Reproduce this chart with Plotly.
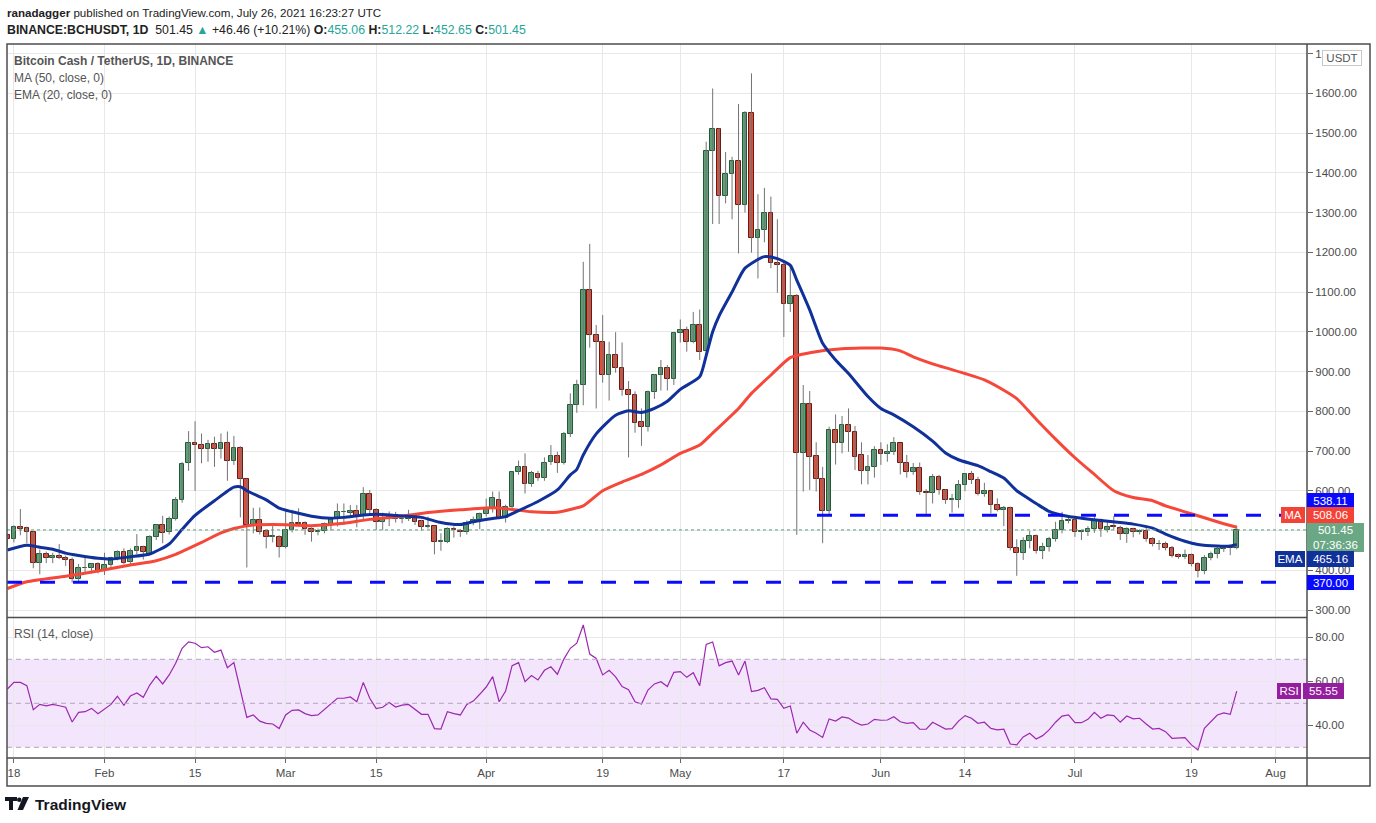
import pandas as pd
import plotly.graph_objects as go

# ============================================================================
# DONNÉES : BCH/USDT, 1D, Binance (17 janv. -> 26 juil. 2021)
# ============================================================================

dates = pd.date_range("2021-01-17", "2021-07-26", freq="D")

opens = [
    489, 478, 509, 506, 495, 417, 440, 430, 437, 430,
    427, 378, 405, 405, 415, 398, 412, 430, 445, 420,
    448, 458, 442, 484, 513, 495, 529, 577, 669, 719,
    714, 704, 717, 704, 719, 676, 707, 629, 515, 526,
    499, 484, 484, 459, 501, 520, 520, 505, 495, 500,
    514, 528, 546, 545, 548, 537, 593, 551, 522, 528,
    540, 528, 530, 536, 524, 510, 511, 472, 472, 505,
    499, 495, 518, 526, 541, 556, 578, 531, 560, 646,
    661, 616, 641, 631, 673, 688, 669, 744, 816, 866,
    1105, 992, 973, 890, 941, 908, 853, 840, 772, 760,
    848, 890, 910, 880, 996, 1004, 973, 1017, 951, 1454,
    1509, 1341, 1398, 1430, 1320, 1550, 1237, 1257, 1298, 1173,
    1167, 1069, 1090, 694, 817, 687, 629, 550, 754, 719,
    765, 749, 689, 650, 661, 702, 692, 697, 719, 670,
    648, 656, 597, 594, 634, 601, 577, 578, 614, 641,
    626, 593, 599, 563, 552, 556, 455, 443, 474, 485,
    448, 459, 479, 501, 524, 526, 495, 495, 505, 526,
    501, 511, 507, 490, 503, 496, 499, 478, 465, 465,
    455, 438, 434, 438, 415, 397, 432, 441, 453, 458,
    455.06,
]
highs = [
    492, 513, 554, 510, 498, 452, 447, 444, 466, 437,
    432, 416, 436, 418, 420, 444, 434, 450, 455, 455,
    491, 462, 488, 516, 537, 535, 584, 672, 750, 775,
    744, 728, 736, 744, 749, 738, 712, 631, 557, 558,
    502, 516, 488, 552, 552, 556, 523, 508, 505, 520,
    530, 568, 568, 564, 564, 609, 602, 556, 545, 548,
    547, 540, 552, 540, 527, 535, 512, 493, 508, 510,
    504, 525, 535, 545, 580, 598, 598, 565, 648, 676,
    694, 650, 650, 684, 715, 698, 748, 845, 879, 1176,
    1221, 1017, 1042, 975, 999, 973, 876, 850, 807, 852,
    894, 929, 916, 1000, 1031, 1013, 1050, 1056, 1478, 1612,
    1512, 1452, 1440, 1573, 1555, 1650, 1346, 1362, 1340, 1283,
    1180, 1164, 1095, 866, 851, 722, 660, 761, 792, 788,
    807, 763, 722, 690, 712, 722, 717, 735, 720, 690,
    670, 671, 604, 642, 640, 604, 592, 627, 644, 650,
    635, 620, 600, 581, 562, 560, 478, 483, 499, 490,
    469, 484, 522, 547, 539, 535, 501, 511, 535, 530,
    526, 536, 512, 508, 507, 503, 508, 483, 476, 472,
    461, 442, 452, 442, 420, 438, 447, 459, 463, 464,
    512.22,
]
lows = [
    459, 470, 488, 468, 405, 390, 418, 418, 428, 411,
    369, 369, 391, 392, 392, 388, 405, 425, 415, 412,
    440, 427, 438, 476, 468, 490, 525, 570, 650, 600,
    669, 673, 660, 681, 625, 665, 533, 407, 493, 490,
    455, 470, 432, 455, 495, 510, 489, 472, 488, 493,
    500, 510, 514, 535, 508, 527, 540, 501, 501, 511,
    520, 518, 524, 514, 500, 505, 440, 449, 468, 482,
    484, 490, 513, 503, 535, 545, 528, 520, 555, 640,
    593, 610, 625, 625, 665, 645, 666, 735, 796, 815,
    960, 807, 872, 827, 897, 839, 684, 746, 713, 749,
    831, 852, 852, 866, 973, 950, 971, 929, 940, 1271,
    1271, 1323, 1283, 1197, 1300, 1199, 1134, 1225, 1160, 1098,
    987, 1050, 489, 598, 602, 598, 468, 537, 666, 694,
    698, 652, 616, 616, 633, 665, 673, 690, 641, 633,
    640, 590, 538, 568, 590, 567, 545, 557, 599, 617,
    588, 585, 543, 548, 511, 450, 386, 426, 455, 442,
    428, 447, 472, 493, 518, 484, 476, 486, 494, 484,
    495, 502, 476, 469, 483, 490, 472, 460, 451, 450,
    432, 429, 428, 410, 382, 390, 425, 430, 446, 438,
    452.65,
]
closes = [
    478, 508, 505, 495, 417, 440, 430, 437, 432, 427,
    378, 405, 406, 415, 398, 412, 430, 445, 417, 448,
    458, 445, 484, 513, 493, 530, 577, 667, 719, 714,
    704, 717, 704, 719, 676, 707, 629, 515, 526, 497,
    483, 485, 459, 501, 518, 516, 505, 495, 500, 516,
    528, 546, 547, 548, 537, 593, 551, 522, 528, 540,
    528, 530, 536, 522, 508, 511, 472, 473, 505, 501,
    495, 518, 526, 541, 556, 581, 531, 560, 646, 661,
    616, 644, 631, 671, 688, 669, 744, 816, 866, 1105,
    992, 973, 890, 941, 908, 853, 841, 770, 760, 848,
    890, 910, 880, 996, 1004, 973, 1017, 950, 1454, 1509,
    1341, 1398, 1430, 1320, 1550, 1237, 1257, 1298, 1172, 1168,
    1069, 1089, 694, 817, 686, 629, 550, 754, 719, 765,
    749, 686, 650, 661, 702, 692, 697, 719, 669, 648,
    656, 596, 594, 634, 601, 576, 579, 614, 641, 627,
    593, 599, 563, 552, 556, 455, 443, 474, 485, 448,
    459, 479, 501, 524, 526, 495, 498, 505, 526, 503,
    510, 508, 490, 503, 495, 499, 479, 465, 466, 455,
    437, 434, 438, 416, 398, 432, 441, 453, 458, 455,
    501.45,
]
rsi = [
    56.5, 59.5, 59.5, 58.0, 47.1, 49.5, 48.8, 49.5, 48.9, 48.2,
    41.5, 45.9, 46.2, 47.7, 45.3, 47.3, 49.5, 53.2, 49.1, 53.3,
    54.7, 52.7, 58.3, 62.3, 58.8, 62.9, 68.2, 75.0, 77.9, 77.3,
    75.3, 75.7, 73.2, 74.2, 66.2, 68.5, 56.0, 43.6, 44.7, 41.9,
    40.9, 40.6, 38.5, 44.7, 46.8, 47.0, 45.3, 44.4, 44.7, 47.3,
    49.7, 52.3, 52.3, 52.9, 50.7, 59.5, 52.3, 47.6, 48.2, 50.4,
    48.3, 49.2, 49.5, 47.3, 45.0, 45.0, 38.5, 38.3, 46.2, 45.3,
    44.7, 49.5, 51.0, 54.1, 57.4, 62.1, 50.7, 55.6, 67.1, 68.5,
    59.8, 62.6, 60.6, 65.0, 66.6, 63.2, 70.1, 75.0, 77.3, 85.6,
    72.4, 70.4, 62.9, 65.0, 62.0, 57.6, 56.2, 50.7, 49.7, 56.0,
    58.8, 59.8, 57.6, 64.1, 64.4, 61.8, 63.9, 58.0, 76.8, 77.9,
    67.0, 68.5, 69.2, 62.9, 69.2, 55.3, 55.9, 57.1, 52.0, 51.8,
    47.7, 48.8, 36.4, 41.4, 37.9, 36.4, 34.5, 42.9, 41.9, 43.8,
    43.3, 41.4, 40.1, 40.6, 42.7, 42.3, 42.4, 43.9, 41.6, 40.9,
    41.2, 38.2, 38.3, 41.4, 39.7, 38.3, 38.5, 41.9, 44.4, 43.2,
    40.9, 41.4, 38.6, 37.9, 38.2, 31.5, 31.1, 34.7, 36.4, 33.8,
    35.3, 37.9, 41.4, 44.2, 44.7, 41.2, 41.2, 42.7, 45.9, 43.2,
    44.7, 44.4, 41.4, 44.2, 42.9, 43.2, 40.6, 38.3, 38.6, 37.1,
    34.1, 34.1, 34.4, 31.1, 28.8, 38.6, 41.7, 44.7, 45.6, 45.0,
    55.55,
]

# Moyennes (jours comptés depuis le 18 janvier)
ema_day = [-1, 2, 4, 6, 8, 10, 13, 15, 18, 21, 24, 26, 28, 31, 34, 35, 36, 39,
           41, 43, 46, 49, 51, 54, 56, 59, 63, 66, 69, 71, 74, 76, 78, 81, 84,
           86, 87, 88, 90, 93, 95, 97, 99, 101, 103, 106, 107, 108, 109, 111,
           113, 116, 118, 120, 121, 123, 125, 127, 129, 132, 134, 136, 139,
           142, 144, 146, 149, 151, 153, 155, 158, 160, 163, 165, 168, 171,
           173, 176, 178, 181, 183, 186, 188, 189]
ema_val = [451, 463, 458, 453, 443, 437, 430, 428, 434, 441, 466, 503, 538, 575,
           609, 610, 600, 577, 556, 547, 536, 531, 533, 539, 541, 538, 533, 520,
           515, 522, 530, 535, 550, 573, 602, 640, 654, 690, 743, 790, 801, 797,
           807, 825, 855, 887, 940, 1000, 1040, 1100, 1160, 1189, 1184, 1167,
           1130, 1055, 971, 929, 895, 837, 807, 791, 761, 725, 695, 678, 663,
           648, 632, 600, 568, 548, 535, 531, 525, 520, 516, 506, 491, 473, 465,
           461, 461, 465.16]

ma_day = [-1, 2, 8, 13, 18, 22, 25, 29, 32, 34, 37, 40, 43, 46, 49, 51, 55, 60,
          64, 69, 74, 77, 80, 84, 86, 88, 91, 94, 97, 100, 103, 106, 108, 112,
          114, 117, 120, 123, 128, 134, 137, 139, 143, 147, 150, 153, 155, 158,
          161, 164, 167, 170, 173, 176, 178, 181, 184, 187, 189]
ma_val = [354, 371, 385, 398, 413, 424, 440, 470, 494, 505, 514, 515, 514, 512,
          515, 518, 528, 536, 545, 552, 557, 553, 547, 546, 553, 562, 600, 622,
          641, 665, 694, 715, 745, 807, 845, 891, 935, 947, 957, 959, 952, 937,
          914, 895, 879, 853, 832, 780, 730, 683, 641, 600, 583, 575, 562, 547,
          532, 517, 508.06]

levels = [370.00, 538.11]
last_price = 501.45
rsi_levels = [30, 50, 70]

tick_dates = ["2021-01-18", "2021-02-01", "2021-02-15", "2021-03-01", "2021-03-15",
              "2021-04-01", "2021-04-19", "2021-05-01", "2021-05-17", "2021-06-01",
              "2021-06-14", "2021-07-01", "2021-07-19", "2021-08-01"]
tick_labels = ["18", "Feb", "15", "Mar", "15", "Apr", "19", "May", "17", "Jun",
               "14", "Jul", "19", "Aug"]
price_ticks = [300, 400, 500, 600, 700, 800, 900, 1000, 1100, 1200, 1300, 1400,
               1500, 1600, 1700]
rsi_ticks = [40, 60, 80]

assert len(opens) == len(highs) == len(lows) == len(closes) == len(rsi) == len(dates)
assert len(ema_day) == len(ema_val) and len(ma_day) == len(ma_val)

# ============================================================================
# REPÈRES DE MISE EN PAGE (pixels de la capture)
# ============================================================================

PX_L, PX_R, PX_T, PX_B = 7, 1307, 44, 758
FONT = "Liberation Sans, Arial, sans-serif"
base = pd.Timestamp("2021-01-18")
jour = pd.Timedelta(days=1)


def fx(px):
    return (px - PX_L) / (PX_R - PX_L)


def fy(py):
    return (PX_B - py) / (PX_B - PX_T)


VERT, ROUGE = "#5e9f78", "#d9503e"
BORD_VERT, BORD_ROUGE = "#1e5b36", "#6b1a12"

fig = go.Figure()

# Mèches
wick_x, wick_y = [], []
for d, h, l in zip(dates, highs, lows):
    wick_x += [d, d, None]
    wick_y += [l, h, None]
fig.add_trace(go.Scatter(x=wick_x, y=wick_y, mode="lines",
                         line=dict(color="#737373", width=1),
                         hoverinfo="skip", showlegend=False))

# Corps des bougies
hausse = [c >= o for o, c in zip(opens, closes)]
fig.add_trace(go.Bar(
    x=dates,
    base=[min(o, c) for o, c in zip(opens, closes)],
    y=[abs(c - o) for o, c in zip(opens, closes)],
    width=0.72 * 86400000,
    marker=dict(color=[VERT if h else ROUGE for h in hausse],
                line=dict(color=[BORD_VERT if h else BORD_ROUGE for h in hausse], width=1)),
    showlegend=False,
))

# MA 50 et EMA 20
fig.add_trace(go.Scatter(x=base + pd.to_timedelta(ma_day, unit="D"), y=ma_val,
                         mode="lines", line=dict(color="#f5483a", width=3, shape="spline", smoothing=0.6),
                         showlegend=False))
fig.add_trace(go.Scatter(x=base + pd.to_timedelta(ema_day, unit="D"), y=ema_val,
                         mode="lines", line=dict(color="#10309a", width=3, shape="spline", smoothing=0.6),
                         showlegend=False))

# RSI
fig.add_trace(go.Scatter(x=dates, y=rsi, yaxis="y2", mode="lines",
                         line=dict(color="#9c27b0", width=1.2), showlegend=False))

# ============================================================================
# FORMES : niveaux, bande RSI, cadres
# ============================================================================

x_debut = base + (PX_L - 13.9) / 6.47 * jour
x_fin = base + (PX_R - 13.9) / 6.47 * jour
x_fin_niveaux = base + (1293 - 13.9) / 6.47 * jour
x_debut_538 = base + (817 - 13.9) / 6.47 * jour

shapes = []
# bande RSI 30-70
shapes.append(dict(type="rect", xref="paper", yref="y2", x0=0, x1=1,
                   y0=rsi_levels[0], y1=rsi_levels[2], fillcolor="#f3e6fc",
                   line=dict(width=0), layer="below"))
for niv in rsi_levels:
    shapes.append(dict(type="line", xref="paper", yref="y2", x0=0, x1=1, y0=niv, y1=niv,
                       line=dict(color="#b4a6bc", width=1, dash="5px,4px")))
# prix courant
shapes.append(dict(type="line", xref="paper", yref="y", x0=0, x1=1,
                   y0=last_price, y1=last_price,
                   line=dict(color="#5e9f78", width=1, dash="dot")))
# supports / résistances
shapes.append(dict(type="line", xref="x", yref="y", x0=x_debut, x1=x_fin_niveaux,
                   y0=levels[0], y1=levels[0],
                   line=dict(color="#0a0aff", width=3, dash="15px,18px")))
shapes.append(dict(type="line", xref="x", yref="y", x0=x_debut_538, x1=x_fin_niveaux,
                   y0=levels[1], y1=levels[1],
                   line=dict(color="#0a0aff", width=3, dash="15px,18px")))
# cadres
cadre = "#4d4d4d"
shapes.append(dict(type="rect", xref="paper", yref="paper", x0=0, x1=fx(1370),
                   y0=fy(786), y1=1, line=dict(color=cadre, width=1.5)))
shapes.append(dict(type="line", xref="paper", yref="paper", x0=1, x1=1,
                   y0=fy(786), y1=1, line=dict(color=cadre, width=1.5)))
shapes.append(dict(type="line", xref="paper", yref="paper", x0=0, x1=fx(1370),
                   y0=0, y1=0, line=dict(color=cadre, width=1.5)))
shapes.append(dict(type="line", xref="paper", yref="paper", x0=0, x1=1,
                   y0=fy(617.5), y1=fy(617.5), line=dict(color=cadre, width=1.5)))
# logo TradingView (approximation)
logo = "#131722"
shapes.append(dict(type="rect", xref="paper", yref="paper", x0=fx(5), x1=fx(17),
                   y0=fy(801), y1=fy(797), fillcolor=logo, line=dict(width=0)))
shapes.append(dict(type="rect", xref="paper", yref="paper", x0=fx(9), x1=fx(13),
                   y0=fy(810), y1=fy(797), fillcolor=logo, line=dict(width=0)))
shapes.append(dict(type="circle", xref="paper", yref="paper", x0=fx(17), x1=fx(21.5),
                   y0=fy(802), y1=fy(797.5), fillcolor=logo, line=dict(width=0)))
x1p, x2p, x3p, x4p = fx(23), fx(29), fx(23), fx(17.5)
y1p, y2p = fy(797), fy(810)
shapes.append(dict(type="path", xref="paper", yref="paper",
                   path=f"M {x1p} {y1p} L {x2p} {y1p} L {x3p} {y2p} L {x4p} {y2p} Z",
                   fillcolor=logo, line=dict(width=0)))

# ============================================================================
# TEXTES
# ============================================================================

TEAL = "#26a69a"
annotations = []


def texte(txt, px, py, size=12.5, color="#222", anchor="left"):
    annotations.append(dict(text=txt, xref="paper", yref="paper", x=fx(px), y=fy(py),
                            xanchor=anchor, yanchor="middle", showarrow=False,
                            font=dict(family=FONT, size=size, color=color)))


texte("<b>ranadagger</b> published on TradingView.com, July 26, 2021 16:23:27 UTC", 5, 13, size=11.6)
texte(f"<b>BINANCE:BCHUSDT, 1D</b>  501.45 <span style='color:{TEAL}'>▲</span> +46.46 (+10.21%) "
      f"<b>O:</b><span style='color:{TEAL}'>455.06</span> <b>H:</b><span style='color:{TEAL}'>512.22</span> "
      f"<b>L:</b><span style='color:{TEAL}'>452.65</span> <b>C:</b><span style='color:{TEAL}'>501.45</span>",
      5, 30, size=12.3)
texte("<b>Bitcoin Cash / TetherUS, 1D, BINANCE</b>", 12, 61, size=12, color="#555")
texte("MA (50, close, 0)", 12, 78, size=12, color="#555")
texte("EMA (20, close, 0)", 12, 95, size=12, color="#555")
texte("RSI (14, close)", 12, 634, size=12, color="#555")
texte("<b>TradingView</b>", 33, 804, size=15.5, color=logo)


def badge(txt, px0, px1, py0, py1, bg, fg="white", border=None):
    annotations.append(dict(text=txt, xref="paper", yref="paper",
                            x=fx(px0), y=fy((py0 + py1) / 2), xanchor="left", yanchor="middle",
                            width=px1 - px0 - 2, height=py1 - py0 - 2, borderpad=0,
                            bgcolor=bg, bordercolor=border or bg, borderwidth=1,
                            showarrow=False, align="center",
                            font=dict(family=FONT, size=11.5, color=fg)))


badge("USDT", 1322, 1362, 50, 66, "white", fg="#555", border="#c8c8c8")
badge(f"{levels[1]:.2f}", 1307, 1354, 493, 508, "#0a0aff")
badge("MA", 1281, 1305, 507, 523, "#f44336")
badge(f"{ma_val[-1]:.2f}", 1307, 1354, 507, 523, "#f44336")
badge(f"{last_price:.2f}<br>07:36:36", 1307, 1364, 523, 552, "#6aa784")
badge("EMA", 1275, 1305, 551, 567, "#10309a")
badge(f"{ema_val[-1]:.2f}", 1307, 1354, 551, 567, "#10309a")
badge(f"{levels[0]:.2f}", 1307, 1354, 575, 590, "#0a0aff")
badge("RSI", 1277, 1301, 683, 699, "#941e9e")
badge(f"{rsi[-1]:.2f}", 1303, 1344, 683, 699, "#941e9e")

# ============================================================================
# MISE EN PAGE
# ============================================================================

grille = "#e8e8e8"
axe_font = dict(family=FONT, size=11.5, color="#4c4c4c")

fig.update_layout(
    width=1376, height=823,
    margin=dict(l=PX_L, r=1376 - PX_R, t=PX_T, b=823 - PX_B),
    paper_bgcolor="white", plot_bgcolor="white",
    showlegend=False, bargap=0,
    xaxis=dict(type="date", range=[x_debut, x_fin], anchor="y2",
               tickvals=tick_dates, ticktext=tick_labels, tickfont=axe_font,
               showgrid=True, gridcolor=grille, gridwidth=1, zeroline=False,
               ticks="outside", ticklen=4, tickcolor="#666", showline=False,
               fixedrange=True),
    yaxis=dict(domain=[fy(617.5), 1], range=[300 + (610 - 617.5) / 0.3975, 300 + (610 - PX_T) / 0.3975],
               side="right", anchor="x", tickvals=price_ticks, tickformat=".2f",
               tickfont=axe_font, showgrid=True, gridcolor=grille, zeroline=False,
               ticks="outside", ticklen=5, tickcolor="#666", fixedrange=True),
    yaxis2=dict(domain=[0, fy(618)], range=[80 - (PX_B - 637.3) / 2.2, 80 + (637.3 - 618) / 2.2],
                side="right", anchor="x", tickvals=rsi_ticks, tickformat=".2f",
                tickfont=axe_font, showgrid=True, gridcolor=grille, zeroline=False,
                ticks="outside", ticklen=5, tickcolor="#666", fixedrange=True),
    shapes=shapes,
    annotations=annotations,
)

# la page par défaut ajoute une marge de 8 px autour du graphique
fig.write_html("out.html", config={"displayModeBar": False},
               post_script="document.body.style.margin='0';")
